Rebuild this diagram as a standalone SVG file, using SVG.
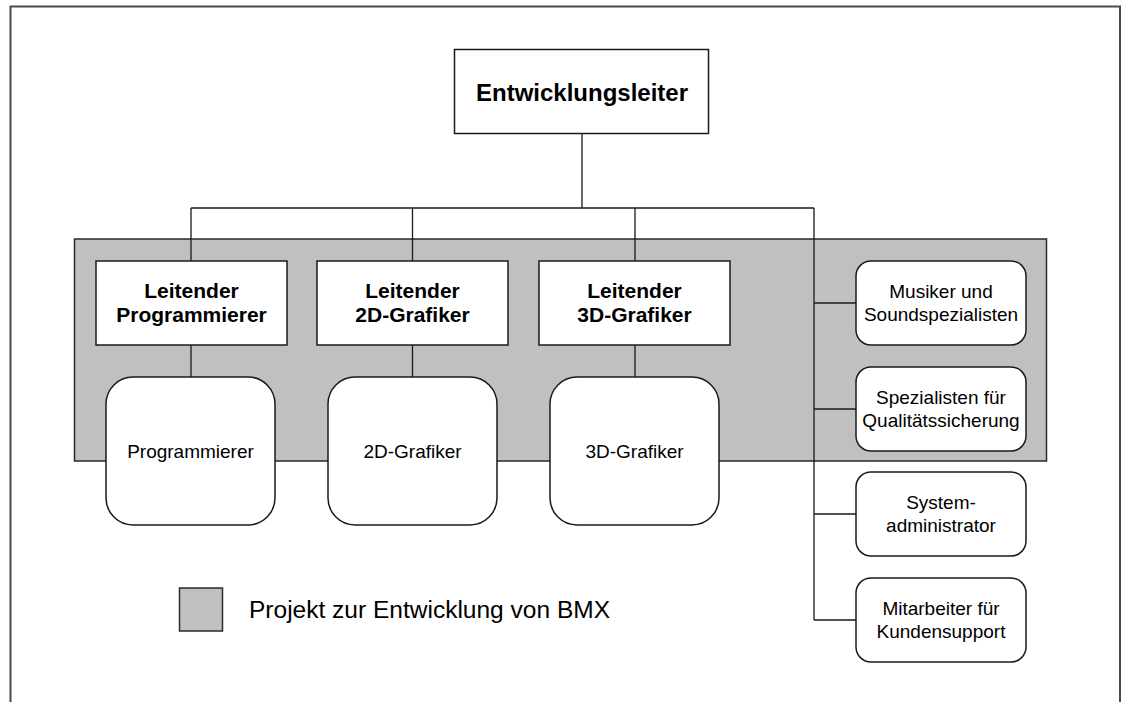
<svg xmlns="http://www.w3.org/2000/svg" width="1125" height="702" viewBox="0 0 1125 702">
  <style>
    .box { fill: #ffffff; stroke: #1a1a1a; stroke-width: 1.5; }
    .link { fill: none; stroke: #1a1a1a; stroke-width: 1.3; }
    .panel { fill: #c0c0c0; stroke: #2a2a2a; stroke-width: 1.5; }
    text { font-family: "Liberation Sans", Arial, sans-serif; fill: #000000; text-anchor: middle; }
    .head { font-size: 24px; font-weight: bold; }
    .lead { font-size: 21px; font-weight: bold; }
    .staff { font-size: 19px; }
    .legend { font-size: 23.5px; text-anchor: start; }
  </style>

  <!-- page frame (open at the bottom) -->
  <path d="M10.5,702 V6.5 H1120 V702" fill="none" stroke="#4a4a4a" stroke-width="2"/>

  <!-- project area -->
  <rect class="panel" x="74.5" y="239" width="972" height="222"/>

  <g id="connectors">
    <path class="link" d="M582,134 V208 M191,208 H814 M191,208 V261 M412.5,208 V261 M635,208 V261"/>
    <path class="link" d="M191,345 V377 M412.5,345 V377 M635,345 V377"/>
    <path class="link" d="M814,208 V620 M814,303 H856 M814,409 H856 M814,514 H856 M814,620 H856"/>
  </g>

  <g id="entwicklungsleiter">
    <rect class="box" x="454.5" y="49.5" width="254" height="84"/>
    <text class="head" x="582" y="101">Entwicklungsleiter</text>
  </g>

  <g id="leitender-programmierer">
    <rect class="box" x="96" y="261" width="191" height="84"/>
    <text class="lead" x="191.5" y="298">Leitender</text>
    <text class="lead" x="191.5" y="322">Programmierer</text>
  </g>
  <g id="leitender-2d">
    <rect class="box" x="317" y="261" width="191" height="84"/>
    <text class="lead" x="412.5" y="298">Leitender</text>
    <text class="lead" x="412.5" y="322">2D-Grafiker</text>
  </g>
  <g id="leitender-3d">
    <rect class="box" x="539" y="261" width="191" height="84"/>
    <text class="lead" x="634.5" y="298">Leitender</text>
    <text class="lead" x="634.5" y="322">3D-Grafiker</text>
  </g>

  <g id="programmierer">
    <rect class="box" x="106" y="377" width="169" height="148" rx="27"/>
    <text class="staff" x="190.5" y="458">Programmierer</text>
  </g>
  <g id="grafiker-2d">
    <rect class="box" x="328" y="377" width="169" height="148" rx="27"/>
    <text class="staff" x="412.5" y="458">2D-Grafiker</text>
  </g>
  <g id="grafiker-3d">
    <rect class="box" x="550" y="377" width="169" height="148" rx="27"/>
    <text class="staff" x="634.5" y="458">3D-Grafiker</text>
  </g>

  <g id="musiker">
    <rect class="box" x="856" y="261" width="170" height="84" rx="15"/>
    <text class="staff" x="941" y="298">Musiker und</text>
    <text class="staff" x="941" y="321">Soundspezialisten</text>
  </g>
  <g id="qualitaet">
    <rect class="box" x="856" y="367" width="170" height="84" rx="15"/>
    <text class="staff" x="941" y="404">Spezialisten für</text>
    <text class="staff" x="941" y="427">Qualitätssicherung</text>
  </g>
  <g id="sysadmin">
    <rect class="box" x="856" y="472" width="170" height="84" rx="15"/>
    <text class="staff" x="941" y="509">System-</text>
    <text class="staff" x="941" y="532">administrator</text>
  </g>
  <g id="kundensupport">
    <rect class="box" x="856" y="578" width="170" height="84" rx="15"/>
    <text class="staff" x="941" y="615">Mitarbeiter für</text>
    <text class="staff" x="941" y="638">Kundensupport</text>
  </g>

  <g id="legend">
    <rect class="panel" x="179.5" y="588" width="43" height="43"/>
    <text class="legend" x="249" y="617.5" textLength="361" lengthAdjust="spacingAndGlyphs">Projekt zur Entwicklung von BMX</text>
  </g>
</svg>
